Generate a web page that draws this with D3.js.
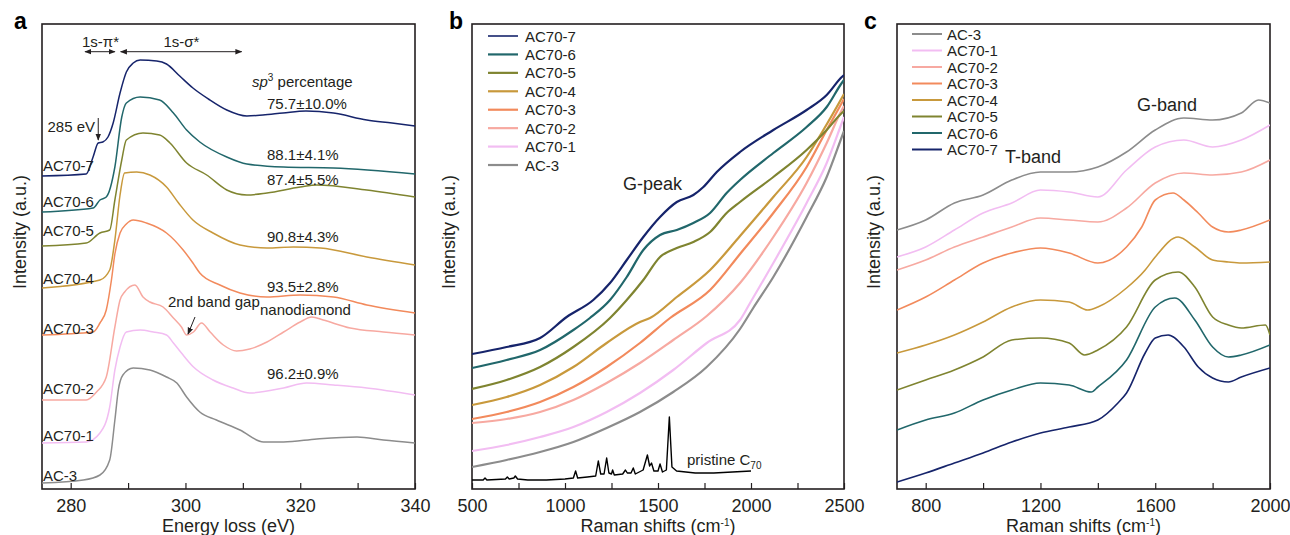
<!DOCTYPE html>
<html>
<head>
<meta charset="utf-8">
<script src="https://cdn.jsdelivr.net/npm/d3@7"></script>
<style>
  body { margin: 0; background: #fff; }
  svg { font-family: "Liberation Sans", Arial, sans-serif; }
</style>
</head>
<body>
<svg id="chart" width="1290" height="535"></svg>
<script>
// ---- data ----
const samples = ['AC70-7', 'AC70-6', 'AC70-5', 'AC70-4', 'AC70-3', 'AC70-2', 'AC70-1', 'AC-3'];
const sp3Labels = ['75.7±10.0%', '88.1±4.1%', '87.4±5.5%', '90.8±4.3%', '93.5±2.8%', 'nanodiamond', '96.2±0.9%', ''];

const eelsTicks = [280, 290, 300, 310, 320, 330, 340];
const eelsMajor = [280, 300, 320, 340];
const ramanTicksB = [500, 750, 1000, 1250, 1500, 1750, 2000, 2250, 2500];
const ramanMajorB = [500, 1000, 1500, 2000, 2500];
const ramanTicksC = [800, 1000, 1200, 1400, 1600, 1800, 2000];
const ramanMajorC = [800, 1200, 1600, 2000];

// a: EELS C K-edge, [energy loss eV, intensity a.u.]
const eels7 = [[275,313],[282.7,315],[283.9,332],[284.8,346],[285.6,347],[286.5,352],[287.4,366],[288.6,396],[289.7,417],[290.9,426],[292.1,429],[295,428],[296.7,425],[299,413],[301.3,401],[304,390],[307.2,379],[310.7,373],[313.5,374],[317,376],[321,378],[325.8,376],[331.6,369],[336,366],[340,363]];
const eels6 = [[275,277],[283.9,281],[285.1,289],[286.2,292],[287.7,322],[288.9,372],[289.7,386],[292.1,392],[295.5,389],[297.9,376],[300.2,359],[302.5,347],[307.2,332],[310.7,325],[317.1,322],[325.8,321],[340,315]];
const eels5 = [[275,243],[282.7,246],[285.1,256],[286.8,259],[287.7,289],[288.9,329],[289.7,349],[292.6,356],[295.5,354],[297.3,346],[300.2,326],[303.7,314],[307.2,299],[310.7,294],[314.2,296],[320,302],[322.9,304],[331.6,299],[340,292]];
const eels4 = [[275,201],[285.1,209],[286.8,219],[287.7,249],[288.6,294],[289.4,316],[291.5,317],[293.8,314],[296.7,302],[298.8,286],[301.3,269],[304.8,256],[309.5,244],[314.2,241],[318.8,242],[323.5,241],[331.6,232],[340,224]];
const eels3 = [[275,154],[283.9,157],[285.1,166],[286.2,179],[287.1,209],[287.7,235],[288.6,256],[289.7,265],[290.9,269],[293.2,266],[296.7,256],[299.6,239],[301.3,226],[302.5,216],[306,204],[309.5,196],[314.2,192],[320,194],[325.8,192],[331.6,184],[340,176]];
const eels2 = [[275,89],[282.7,89],[284.5,97],[286.2,112],[287.7,162],[288.6,189],[289.4,197],[291.2,204],[292.6,192],[293.8,187],[296.1,182],[297.9,171],[299.3,162],[300.2,154],[301.4,157],[302.8,166],[304.3,157],[306.6,144],[308.9,138],[311.2,140],[314.2,147],[317.1,157],[320,167],[322,172],[324,169],[328.7,161],[334.5,157],[340,154]];
const eels1 = [[275,46],[282.7,47],[285.1,56],[286.8,82],[287.7,119],[288.6,142],[289.7,157],[292.1,159],[294.4,157],[296.7,154],[297.9,146],[299.3,136],[301.4,122],[304.8,109],[308.3,101],[311.2,96],[317.1,101],[321.1,106],[325.8,104],[331.6,101],[340,94]];
const eelsAC3 = [[275,6],[282.2,9],[285.1,14],[286.8,29],[287.7,69],[288.3,99],[289.1,114],[290.9,121],[293.8,119],[296.7,112],[298.5,106],[300.2,92],[302.5,77],[305.4,69],[309.5,59],[313.6,47],[317.1,47],[322.9,50],[329.9,52],[334.5,49],[340,46]];

// b: Raman with background, [Raman shift cm-1, intensity a.u.]
const ramanB7 = [[500,135],[686,142],[866,151],[1009,172],[1152,189],[1242,206],[1332,229],[1421,252],[1511,272],[1601,287],[1690,294],[1744,302],[1816,317],[1941,337],[2120,359],[2299,379],[2407,394],[2488,412],[2500,414]];
const ramanB6 = [[500,121],[686,129],[866,139],[1045,159],[1134,171],[1242,189],[1332,212],[1421,239],[1511,254],[1601,259],[1690,266],[1780,276],[1869,296],[1941,309],[2120,336],[2299,362],[2407,382],[2488,406],[2500,409]];
const ramanB5 = [[500,100],[686,109],[866,122],[1045,142],[1242,171],[1332,189],[1421,209],[1511,232],[1601,241],[1690,247],[1780,257],[1869,276],[1941,287],[2120,312],[2299,339],[2407,359],[2488,376],[2500,378]];
const ramanB4 = [[500,84],[686,92],[866,104],[1045,122],[1224,146],[1403,167],[1457,171],[1601,192],[1780,219],[1941,253],[2120,292],[2299,332],[2389,359],[2488,391],[2500,395]];
const ramanB3 = [[500,70],[686,77],[866,87],[1045,102],[1224,122],[1403,146],[1565,171],[1780,199],[1941,235],[2120,276],[2299,322],[2407,359],[2488,386],[2500,390]];
const ramanB2 = [[500,66],[686,70],[866,77],[1045,89],[1224,106],[1403,126],[1582,149],[1762,173],[1941,206],[2120,252],[2299,306],[2407,346],[2488,379],[2500,383]];
const ramanB1 = [[500,38],[686,44],[866,52],[1045,62],[1224,77],[1403,96],[1582,119],[1762,146],[1941,169],[1995,186],[2120,226],[2299,286],[2407,326],[2488,366],[2500,372]];
const ramanBAC3 = [[500,22],[686,29],[866,37],[1045,47],[1224,61],[1403,77],[1582,97],[1762,122],[1941,160],[2012,181],[2120,212],[2299,272],[2407,312],[2488,352],[2500,358]];
const ramanC70 = [[500,9],[560,9],[570,11],[580,9],[680,10],[690,12],[700,10],[725,11],[733,13],[745,10],[800,9],[900,9],[1000,10],[1045,11],[1057,18],[1068,11],[1120,12],[1165,13],[1179,28],[1192,15],[1210,15],[1224,31],[1236,16],[1250,15],[1256,19],[1265,14],[1310,15],[1325,19],[1335,16],[1355,16],[1367,21],[1378,15],[1420,19],[1443,34],[1455,23],[1465,26],[1478,18],[1500,18],[1511,25],[1524,17],[1545,19],[1561,72],[1575,22],[1600,18],[1700,16],[1800,16],[1900,17],[2000,18]];

// c: background-subtracted Raman, [Raman shift cm-1, intensity a.u.]
const ramanCAC3 = [[700,259],[800,269],[900,286],[1000,294],[1100,309],[1200,317],[1300,317],[1400,322],[1500,337],[1600,359],[1700,371],[1800,369],[1900,376],[1960,389],[2000,386]];
const ramanC1 = [[700,232],[800,242],[900,259],[1000,276],[1100,286],[1200,299],[1300,297],[1400,292],[1500,319],[1600,342],[1700,349],[1800,342],[1900,349],[2000,364]];
const ramanC2 = [[700,219],[800,229],[900,242],[1000,252],[1100,262],[1200,271],[1300,269],[1400,267],[1500,281],[1600,306],[1700,316],[1800,314],[1900,317],[2000,329]];
const ramanC3 = [[700,179],[800,192],[900,209],[1000,226],[1100,236],[1200,241],[1300,236],[1400,226],[1500,242],[1553,262],[1600,289],[1662,296],[1700,289],[1750,276],[1800,262],[1855,257],[1900,259],[2000,269]];
const ramanC4 = [[700,136],[800,144],[900,154],[1000,167],[1100,182],[1200,189],[1300,187],[1365,179],[1400,182],[1500,201],[1565,219],[1600,232],[1680,252],[1738,242],[1800,229],[1855,227],[1900,226],[2000,227]];
const ramanC5 = [[700,99],[800,109],[900,119],[1000,132],[1100,149],[1200,151],[1300,146],[1354,134],[1400,139],[1500,162],[1600,209],[1680,217],[1738,202],[1800,172],[1855,164],[1900,161],[1984,164],[2000,154]];
const ramanC6 = [[700,59],[800,69],[900,76],[1000,89],[1100,99],[1200,106],[1300,104],[1377,97],[1400,102],[1500,129],[1600,182],[1668,191],[1738,169],[1800,142],[1855,132],[1900,134],[2000,144]];
const ramanC7 = [[700,7],[800,16],[900,26],[1000,36],[1100,47],[1200,56],[1300,62],[1400,69],[1470,86],[1500,96],[1565,136],[1600,151],[1645,154],[1700,142],[1750,122],[1800,111],[1855,107],[1900,112],[2000,121]];

const eelsSeries = [eels7, eels6, eels5, eels4, eels3, eels2, eels1, eelsAC3];
const ramanBSeries = [ramanB7, ramanB6, ramanB5, ramanB4, ramanB3, ramanB2, ramanB1, ramanBAC3];
const ramanCSeries = [ramanC7, ramanC6, ramanC5, ramanC4, ramanC3, ramanC2, ramanC1, ramanCAC3];

// ---- style / layout ----
const colors = ['#16246b', '#21676b', '#7f8430', '#c8993c', '#f28a5c', '#f7a9a1', '#f2bdf2', '#8c8c8c'];
const ink = '#231f20';
const plotTop = 24, plotBottom = 489;

const svg = d3.select('#chart');
const y = d3.scaleLinear().domain([0, 465]).range([plotBottom, plotTop]);

const defs = svg.append('defs');
defs.append('marker')
  .attr('id', 'head')
  .attr('viewBox', '0 0 10 10')
  .attr('refX', 9).attr('refY', 5)
  .attr('markerWidth', 7).attr('markerHeight', 7)
  .attr('orient', 'auto-start-reverse')
  .append('path')
  .attr('d', 'M0,1L10,5L0,9z')
  .attr('fill', ink);

function setupPanel(id, x0, x1, domain, tickVals, major, letter, letterX, ylabX) {
  const x = d3.scaleLinear().domain(domain).range([x0, x1]);
  const g = svg.append('g');

  defs.append('clipPath').attr('id', 'clip-' + id)
    .append('rect').attr('x', x0).attr('y', plotTop)
    .attr('width', x1 - x0).attr('height', plotBottom - plotTop);

  const axis = d3.axisBottom(x)
    .tickValues(tickVals)
    .tickSizeInner(-6).tickSizeOuter(0).tickPadding(10)
    .tickFormat(d => major.includes(d) ? d : '');

  g.append('g')
    .attr('transform', 'translate(0,' + plotBottom + ')')
    .call(axis)
    .call(s => s.select('.domain').remove())
    .call(s => s.selectAll('line').attr('stroke', ink).attr('stroke-width', 1.2))
    .call(s => s.selectAll('text')
      .attr('font-size', 18)
      .attr('font-family', '"Liberation Sans", Arial, sans-serif')
      .attr('fill', ink));

  g.append('rect')
    .attr('x', x0).attr('y', plotTop)
    .attr('width', x1 - x0).attr('height', plotBottom - plotTop)
    .attr('fill', 'none').attr('stroke', ink).attr('stroke-width', 1.6);

  g.append('text')
    .attr('x', letterX).attr('y', 29)
    .attr('font-size', 23).attr('font-weight', 'bold').attr('fill', '#000')
    .text(letter);

  g.append('text')
    .attr('transform', 'translate(' + ylabX + ',232) rotate(-90)')
    .attr('text-anchor', 'middle')
    .attr('font-size', 18).attr('fill', ink)
    .text('Intensity (a.u.)');

  const plot = g.append('g').attr('clip-path', 'url(#clip-' + id + ')');
  return { g, plot, x };
}

function drawLine(panel, data, color, width, curve) {
  const line = d3.line()
    .x(d => panel.x(d[0]))
    .y(d => y(d[1]))
    .curve(curve || d3.curveMonotoneX);
  panel.plot.append('path')
    .datum(data)
    .attr('d', line)
    .attr('fill', 'none')
    .attr('stroke', color)
    .attr('stroke-width', width)
    .attr('stroke-linejoin', 'round');
}

function ramanTitle(panel) {
  const [x0, x1] = panel.x.range();
  const t = panel.g.append('text')
    .attr('x', (x0 + x1) / 2).attr('y', 532)
    .attr('text-anchor', 'middle')
    .attr('font-size', 18).attr('fill', ink);
  t.append('tspan').text('Raman shifts (cm');
  t.append('tspan').attr('font-size', 10).attr('dy', -6).text('-1');
  t.append('tspan').attr('dy', 6).text(')');
}

// ---- panel a ----
const pa = setupPanel('a', 42, 415, [275, 340], eelsTicks, eelsMajor, 'a', 14, 26);
eelsSeries.slice().reverse().forEach((data, i) => {
  const k = eelsSeries.length - 1 - i;
  drawLine(pa, data, colors[k], 1.5);
});

pa.g.append('text')
  .attr('x', 228.5).attr('y', 532)
  .attr('text-anchor', 'middle')
  .attr('font-size', 18).attr('fill', ink)
  .text('Energy loss (eV)');

const sampleLabelY = [171, 207, 236, 284, 334, 394, 441, 481];
samples.forEach((s, i) => {
  pa.g.append('text')
    .attr('x', 43).attr('y', sampleLabelY[i])
    .attr('font-size', 15).attr('fill', ink)
    .text(s);
});

const sp3LabelY = [109, 160, 185, 242, 292, 315, 379];
sp3Labels.forEach((s, i) => {
  if (!s) return;
  pa.g.append('text')
    .attr('x', s === 'nanodiamond' ? 260 : 267).attr('y', sp3LabelY[i])
    .attr('font-size', 15).attr('fill', ink)
    .text(s);
});

const sp3Title = pa.g.append('text')
  .attr('x', 252).attr('y', 87)
  .attr('font-size', 15).attr('fill', ink);
sp3Title.append('tspan').attr('font-style', 'italic').text('sp');
sp3Title.append('tspan').attr('font-size', 10).attr('dy', -6).text('3');
sp3Title.append('tspan').attr('dy', 6).text(' percentage');

// transitions
pa.g.append('text').attr('x', pa.x(285.2)).attr('y', 46.5)
  .attr('text-anchor', 'middle').attr('font-size', 15).attr('fill', ink).text('1s-π*');
pa.g.append('text').attr('x', pa.x(299.3)).attr('y', 46.5)
  .attr('text-anchor', 'middle').attr('font-size', 15).attr('fill', ink).text('1s-σ*');
[[282.5, 287.7], [288.7, 309.8]].forEach(([e0, e1]) => {
  pa.g.append('line')
    .attr('x1', pa.x(e0)).attr('x2', pa.x(e1))
    .attr('y1', 51.7).attr('y2', 51.7)
    .attr('stroke', ink).attr('stroke-width', 1)
    .attr('marker-start', 'url(#head)').attr('marker-end', 'url(#head)');
});

pa.g.append('text').attr('x', 95).attr('y', 132)
  .attr('text-anchor', 'end').attr('font-size', 15).attr('fill', ink).text('285 eV');
pa.g.append('line')
  .attr('x1', pa.x(284.8)).attr('x2', pa.x(284.8))
  .attr('y1', 118).attr('y2', 140)
  .attr('stroke', ink).attr('stroke-width', 1)
  .attr('marker-end', 'url(#head)');

pa.g.append('text').attr('x', 168).attr('y', 307)
  .attr('font-size', 15).attr('fill', ink).text('2nd band gap');
pa.g.append('line')
  .attr('x1', 195).attr('y1', 317).attr('x2', 188).attr('y2', 334)
  .attr('stroke', ink).attr('stroke-width', 1)
  .attr('marker-end', 'url(#head)');

// ---- panel b ----
const pb = setupPanel('b', 472, 844, [500, 2500], ramanTicksB, ramanMajorB, 'b', 449, 455);
ramanTitle(pb);
ramanBSeries.slice().reverse().forEach((data, i) => {
  const k = ramanBSeries.length - 1 - i;
  drawLine(pb, data, colors[k], 2.2);
});
drawLine(pb, ramanC70, '#000', 1.4, d3.curveLinear);

const c70 = pb.g.append('text').attr('x', 687).attr('y', 465)
  .attr('font-size', 15).attr('fill', ink);
c70.append('tspan').text('pristine C');
c70.append('tspan').attr('font-size', 10).attr('dy', 4).text('70');

pb.g.append('text').attr('x', 623).attr('y', 190)
  .attr('font-size', 18).attr('fill', ink).text('G-peak');

samples.forEach((s, i) => {
  const yy = 36 + i * 18.43;
  pb.g.append('line')
    .attr('x1', 488).attr('x2', 518).attr('y1', yy).attr('y2', yy)
    .attr('stroke', colors[i]).attr('stroke-width', i === 0 ? 1.6 : 2.2);
  pb.g.append('text')
    .attr('x', 525).attr('y', yy + 5.5)
    .attr('font-size', 15).attr('fill', ink).text(s);
});

// ---- panel c ----
const pc = setupPanel('c', 897, 1270, [700, 2000], ramanTicksC, ramanMajorC, 'c', 864, 880);
ramanTitle(pc);
ramanCSeries.forEach((data, k) => {
  drawLine(pc, data, colors[k], 1.6);
});

pc.g.append('text').attr('x', 1137).attr('y', 111)
  .attr('font-size', 18).attr('fill', ink).text('G-band');
pc.g.append('text').attr('x', 1005).attr('y', 163)
  .attr('font-size', 18).attr('fill', ink).text('T-band');

samples.slice().reverse().forEach((s, i) => {
  const k = samples.length - 1 - i;
  const yy = 34 + i * 16.5;
  pc.g.append('line')
    .attr('x1', 912).attr('x2', 942).attr('y1', yy).attr('y2', yy)
    .attr('stroke', colors[k]).attr('stroke-width', 2);
  pc.g.append('text')
    .attr('x', 947).attr('y', yy + 5.5)
    .attr('font-size', 15).attr('fill', ink).text(s);
});
</script>
</body>
</html>
